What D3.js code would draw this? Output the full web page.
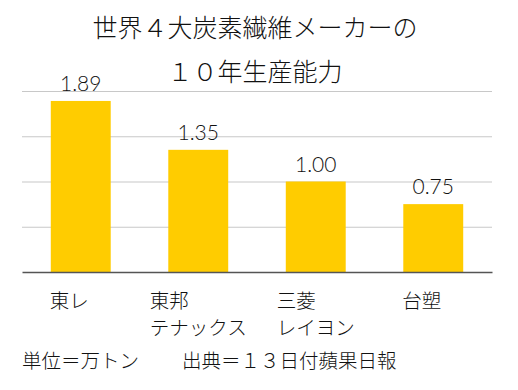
<!DOCTYPE html>
<html>
<head>
<meta charset="utf-8">
<script src="https://cdn.jsdelivr.net/npm/d3@7"></script>
<style>
  body { margin: 0; background: #fff; }
  svg { display: block; }
  text { font-family: "Noto Sans CJK JP", "Noto Sans", sans-serif; font-weight: 300; fill: #111; }
  .val { font-family: Lato, "Noto Sans", sans-serif; font-weight: 300; }
</style>
</head>
<body>
<svg width="518" height="390"></svg>
<script>
// chart data
var titleLines = ['世界４大炭素繊維メーカーの', '１０年生産能力'];
var companies = [['東レ'], ['東邦', 'テナックス'], ['三菱', 'レイヨン'], ['台塑']];
var capacity = [1.89, 1.35, 1.00, 0.75];
var gridTicks = [0, 0.5, 1, 1.5, 2];
var unitNote = '単位＝万トン';
var sourceNote = '出典＝１３日付蘋果日報';

var svg = d3.select('svg');
var plotLeft = 22, plotRight = 492, plotTop = 91, plotBottom = 272;

var x = d3.scaleBand()
    .domain(d3.range(companies.length))
    .range([plotLeft, plotRight])
    .paddingInner(0.49)
    .paddingOuter(0.245);

var y = d3.scaleLinear().domain([0, 2]).range([plotBottom, plotTop]);

// title
svg.selectAll('text.title')
    .data(titleLines)
  .enter().append('text')
    .attr('class', 'title')
    .attr('x', 255)
    .attr('y', function(d, i) { return 37 + i * 44; })
    .attr('text-anchor', 'middle')
    .style('font-size', '25px')
    .text(function(d) { return d; });

// horizontal grid
svg.append('g')
    .attr('transform', 'translate(' + plotLeft + ',0)')
    .call(d3.axisLeft(y).tickValues(gridTicks.slice(1)).tickSize(-(plotRight - plotLeft)).tickFormat(''))
    .call(function(g) {
        g.select('.domain').remove();
        g.selectAll('.tick line').attr('stroke', '#c8c8c8').attr('stroke-width', 1.2);
    });

// bars
svg.selectAll('rect.bar')
    .data(capacity)
  .enter().append('rect')
    .attr('class', 'bar')
    .attr('x', function(d, i) { return x(i); })
    .attr('width', x.bandwidth())
    .attr('y', function(d) { return y(d); })
    .attr('height', function(d) { return y(0) - y(d); })
    .attr('fill', '#ffcc00');

// baseline
svg.append('g')
    .attr('transform', 'translate(0,' + plotBottom + ')')
    .call(d3.axisBottom(x).tickSize(0).tickFormat(''))
    .call(function(g) {
        g.select('.domain').attr('stroke', '#555').attr('stroke-width', 1.5);
    });

// value labels
svg.selectAll('text.val')
    .data(capacity)
  .enter().append('text')
    .attr('class', 'val')
    .attr('x', function(d, i) { return x(i) + x.bandwidth() / 2; })
    .attr('y', function(d) { return y(d) - 10; })
    .attr('text-anchor', 'middle')
    .style('font-size', '21px')
    .text(function(d) { return d.toFixed(2); });

// category labels, lines left aligned, block centred under bar
var cat = svg.selectAll('g.cat')
    .data(companies)
  .enter().append('g')
    .attr('class', 'cat');

cat.each(function(lines, i) {
    var g = d3.select(this);
    var t = g.append('text').style('font-size', '19.5px');
    t.selectAll('tspan')
        .data(lines)
      .enter().append('tspan')
        .attr('x', 0)
        .attr('dy', function(d, j) { return j ? 27 : 0; })
        .text(function(d) { return d; });
    var w = Math.max(t.node().getBBox().width, 62);
    g.attr('transform', 'translate(' + (x(i) + x.bandwidth() / 2 - w / 2) + ',' + 308 + ')');
});

// footer notes
svg.append('text')
    .attr('x', 22).attr('y', 368)
    .style('font-size', '19.5px')
    .text(unitNote);
svg.append('text')
    .attr('x', 182).attr('y', 368)
    .style('font-size', '19.5px')
    .text(sourceNote);
</script>
</body>
</html>
